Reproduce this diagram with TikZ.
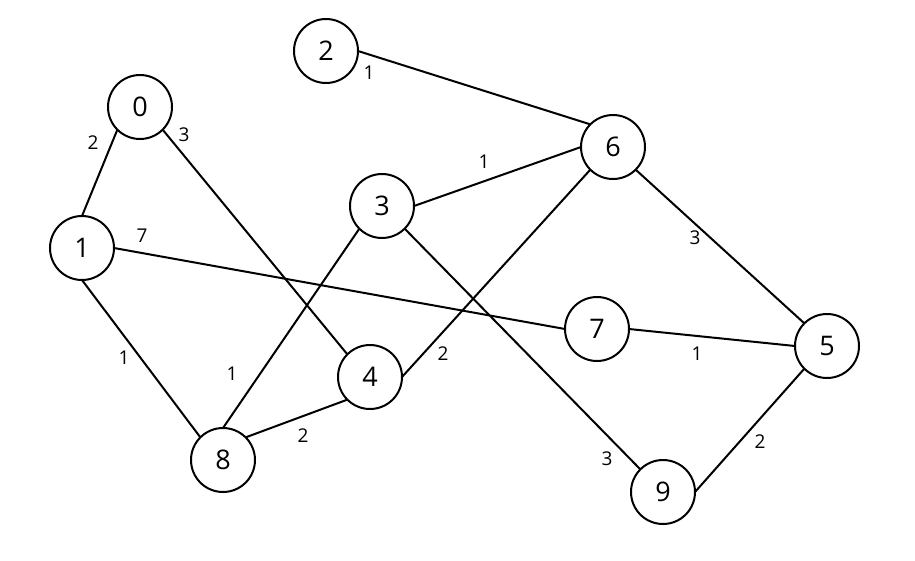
\documentclass[tikz,border=0pt]{standalone}
\usepackage{fontspec}
\setmainfont{Open Sans}
\begin{document}
\begin{tikzpicture}[x=1pt,y=-1pt,
  vtx/.style={circle,draw=black,line width=2pt,minimum size=64pt,inner sep=0pt,outer sep=0pt,fill=white,font=\fontsize{27}{30}\selectfont},
  edge/.style={draw=black,line width=2pt},
  lbl/.style={inner sep=0pt,font=\fontsize{19}{21}\selectfont}]
\useasboundingbox (0,0) rectangle (915,560);
\fill[white] (0,0) rectangle (915,560);
\node[vtx] (n0) at (140,107) {0};
\node[vtx] (n1) at (82,248) {1};
\node[vtx] (n2) at (326,51) {2};
\node[vtx] (n3) at (382,206) {3};
\node[vtx] (n4) at (370,377) {4};
\node[vtx] (n5) at (827,346) {5};
\node[vtx] (n6) at (613,147) {6};
\node[vtx] (n7) at (597,329) {7};
\node[vtx] (n8) at (223,460) {8};
\node[vtx] (n9) at (663,492) {9};
\draw[edge] (n0.225) -- (n1.90);
\draw[edge] (n0.-45) -- (n4.135);
\draw[edge] (n1.0) -- (n7.180);
\draw[edge] (n1.-90) -- (n8.135);
\draw[edge] (n2.0) -- (n6.135);
\draw[edge] (n3.0) -- (n6.180);
\draw[edge] (n3.225) -- (n8.90);
\draw[edge] (n3.-45) -- (n9.135);
\draw[edge] (n4.0) -- (n6.225);
\draw[edge] (n8.45) -- (n4.225);
\draw[edge] (n6.-45) -- (n5.135);
\draw[edge] (n7.0) -- (n5.180);
\draw[edge] (n9.0) -- (n5.225);
\node[lbl] (w01) at (93,143) {2};
\node[lbl] (w04) at (184,135) {3};
\node[lbl] (w17) at (142,236) {7};
\node[lbl] (w18) at (124,358) {1};
\node[lbl] (w26) at (369,73) {1};
\node[lbl] (w36) at (484,162) {1};
\node[lbl] (w38) at (232,374) {1};
\node[lbl] (w84) at (303,436) {2};
\node[lbl] (w46) at (443,354) {2};
\node[lbl] (w65) at (695,238) {3};
\node[lbl] (w75) at (697,354) {1};
\node[lbl] (w39) at (607,459) {3};
\node[lbl] (w95) at (760,442) {2};
\end{tikzpicture}
\end{document}
